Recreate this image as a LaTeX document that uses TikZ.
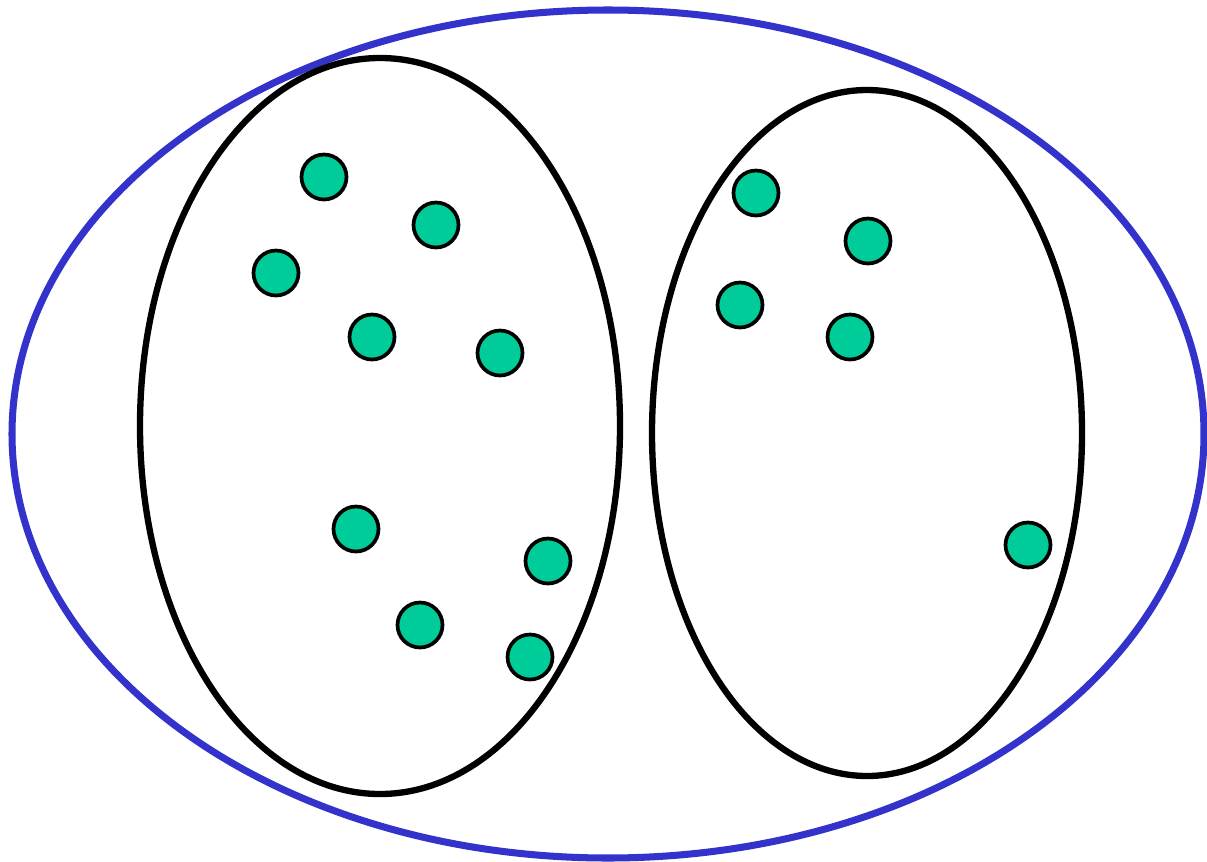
\documentclass[tikz,border=0pt]{standalone}
\usetikzlibrary{positioning}
\definecolor{setblue}{RGB}{51,51,204}
\definecolor{dotgreen}{RGB}{0,204,153}
\tikzset{
  outerset/.style={draw=setblue,line width=4pt},
  innerset/.style={draw=black,line width=3.6pt},
  elem/.style={circle,draw=black,fill=dotgreen,line width=2.1pt,
    minimum size=0.9cm,inner sep=0pt},
}
\begin{document}
\begin{tikzpicture}[x=0.02cm,y=-0.02cm]
  \useasboundingbox (0,0) rectangle (1207,862);
  % the whole set and its two parts
  \draw[outerset] (608,434) ellipse [x radius=596,y radius=424];
  \draw[innerset] (380,426) ellipse [x radius=240,y radius=368];
  \draw[innerset] (867,433) ellipse [x radius=215,y radius=343];
  % elements of the left part
  \foreach \px/\py [count=\i] in {324/177,436/225,276/273,372/337,500/353,
      356/529,548/561,420/625,530/657}
    \node[elem] (l\i) at (\px,\py) {};
  % elements of the right part
  \foreach \px/\py [count=\i] in {756/193,868/241,740/305,850/337,1028/545}
    \node[elem] (r\i) at (\px,\py) {};
\end{tikzpicture}
\end{document}
